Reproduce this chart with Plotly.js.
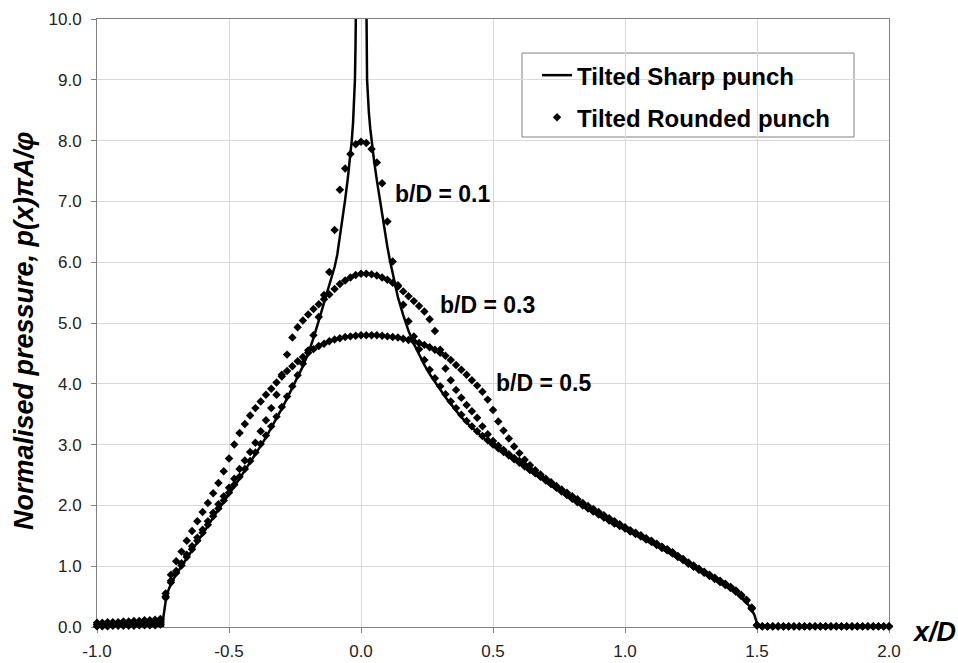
<!DOCTYPE html>
<html>
<head>
<meta charset="utf-8">
<script src="https://cdn.plot.ly/plotly-3.0.1.min.js"></script>
<style>html,body{margin:0;padding:0;background:#fff;}#chart{width:958px;height:663px;}</style>
</head>
<body>
<div id="chart"></div>
<script>
// Tilted sharp punch (solid line), singular near x/D = 0
const sharpX = [-1.0,-0.75,-0.749,-0.745,-0.74,-0.73,-0.72,-0.70,-0.68,-0.66,-0.64,-0.62,-0.60,-0.58,-0.56,-0.54,-0.52,-0.50,-0.48,-0.46,-0.44,-0.42,-0.40,-0.38,-0.36,-0.34,-0.32,-0.30,-0.28,-0.26,-0.24,-0.22,-0.20,-0.18,-0.16,-0.14,-0.12,-0.10,-0.09,-0.08,-0.07,-0.06,-0.05,-0.04,-0.035,-0.03,-0.025,-0.023,-0.021,-0.019,-0.018,
  null,
  0.018,0.021,0.023,0.026,0.03,0.035,0.04,0.05,0.06,0.072,0.08,0.09,0.10,0.11,0.12,0.14,0.16,0.18,0.20,0.22,0.24,0.26,0.28,0.30,0.32,0.34,0.36,0.38,0.40,0.42,0.44,0.46,0.48,0.50,0.55,0.60,0.65,0.70,0.75,0.80,0.85,0.90,0.95,1.00,1.05,1.10,1.15,1.20,1.25,1.30,1.35,1.40,1.44,1.46,1.48,1.49,1.497,1.50,2.0];
const sharpY = [0,0,0.15,0.30,0.42,0.60,0.71,0.87,0.99,1.13,1.26,1.40,1.53,1.66,1.80,1.93,2.05,2.18,2.31,2.44,2.57,2.70,2.84,2.98,3.12,3.27,3.43,3.59,3.76,3.93,4.10,4.29,4.50,4.75,5.04,5.33,5.62,5.92,6.12,6.40,6.70,7.03,7.38,7.75,8.00,8.30,8.70,9.00,9.50,10.0,10.6,
  null,
  10.6,10.0,9.0,8.7,8.45,8.2,8.0,7.65,7.35,7.0,6.78,6.50,6.25,6.02,5.80,5.42,5.13,4.87,4.66,4.48,4.31,4.16,4.03,3.90,3.78,3.67,3.56,3.45,3.36,3.28,3.20,3.12,3.05,2.98,2.83,2.68,2.54,2.39,2.24,2.09,1.96,1.83,1.71,1.60,1.49,1.38,1.26,1.13,1.00,0.87,0.75,0.62,0.49,0.41,0.28,0.20,0.10,0,0];

// Tilted rounded punch (dots), common x/D sampling
const roundedX = [
 -1.00,-0.98,-0.96,-0.94,-0.92,-0.90,-0.88,-0.86,-0.84,-0.82,
 -0.80,-0.78,-0.76,-0.74,-0.72,-0.70,-0.68,-0.66,-0.64,-0.62,
 -0.60,-0.58,-0.56,-0.54,-0.52,-0.50,-0.48,-0.46,-0.44,-0.42,
 -0.40,-0.38,-0.36,-0.34,-0.32,-0.30,-0.28,-0.26,-0.24,-0.22,
 -0.20,-0.18,-0.16,-0.14,-0.12,-0.10,-0.08,-0.06,-0.04,-0.02,
 0.00,0.02,0.04,0.06,0.08,0.10,0.12,0.14,0.16,0.18,
 0.20,0.22,0.24,0.26,0.28,0.30,0.32,0.34,0.36,0.38,
 0.40,0.42,0.44,0.46,0.48,0.50,0.52,0.54,0.56,0.58,
 0.60,0.62,0.64,0.66,0.68,0.70,0.72,0.74,0.76,0.78,
 0.80,0.82,0.84,0.86,0.88,0.90,0.92,0.94,0.96,0.98,
 1.00,1.02,1.04,1.06,1.08,1.10,1.12,1.14,1.16,1.18,
 1.20,1.22,1.24,1.26,1.28,1.30,1.32,1.34,1.36,1.38,
 1.40,1.42,1.44,1.46,1.48,1.50,1.52,1.54,1.56,1.58,
 1.60,1.62,1.64,1.66,1.68,1.70,1.72,1.74,1.76,1.78,
 1.80,1.82,1.84,1.86,1.88,1.90,1.92,1.94,1.96,1.98,
 2.00];

const roundedB01 = [
 0.01,0.01,0.01,0.02,0.02,0.02,0.02,0.02,0.03,0.03,
 0.03,0.03,0.04,0.48,0.73,0.89,1.01,1.15,1.28,1.42,
 1.55,1.68,1.82,1.95,2.08,2.21,2.34,2.47,2.60,2.73,
 2.87,3.01,3.15,3.30,3.46,3.62,3.79,3.96,4.14,4.33,
 4.55,4.80,5.10,5.46,5.84,6.53,7.19,7.54,7.78,7.94,
 7.98,7.96,7.86,7.64,7.30,6.67,6.01,5.62,5.30,5.03,
 4.78,4.57,4.39,4.23,4.09,3.96,3.83,3.71,3.60,3.49,
 3.39,3.30,3.22,3.14,3.07,3.00,2.94,2.88,2.82,2.76,
 2.70,2.64,2.58,2.53,2.47,2.41,2.35,2.29,2.23,2.17,
 2.11,2.05,2.00,1.95,1.90,1.85,1.80,1.75,1.70,1.66,
 1.62,1.57,1.53,1.49,1.44,1.40,1.35,1.30,1.26,1.21,
 1.15,1.10,1.04,0.99,0.94,0.89,0.84,0.79,0.74,0.69,
 0.64,0.58,0.51,0.43,0.30,0.03,0.01,0.01,0.01,0.01,
 0.01,0.01,0.01,0.01,0.01,0.01,0.01,0.01,0.01,0.01,
 0.01,0.01,0.01,0.01,0.01,0.01,0.01,0.01,0.01,0.01,
 0.01];

const roundedB03 = [
 0.04,0.04,0.05,0.05,0.05,0.05,0.06,0.06,0.06,0.07,
 0.07,0.07,0.08,0.50,0.76,0.92,1.05,1.19,1.33,1.47,
 1.60,1.74,1.88,2.02,2.15,2.29,2.44,2.60,2.74,2.88,
 3.03,3.22,3.40,3.60,3.82,4.15,4.48,4.76,4.93,5.04,
 5.14,5.23,5.31,5.39,5.47,5.56,5.64,5.70,5.75,5.79,
 5.81,5.81,5.80,5.78,5.75,5.71,5.66,5.60,5.52,5.44,
 5.36,5.28,5.19,5.06,4.87,4.56,4.25,4.06,3.90,3.77,
 3.65,3.55,3.44,3.30,3.17,3.06,2.98,2.91,2.84,2.78,
 2.73,2.67,2.60,2.54,2.48,2.42,2.36,2.30,2.24,2.18,
 2.12,2.06,2.01,1.96,1.91,1.86,1.81,1.76,1.71,1.67,
 1.63,1.58,1.54,1.50,1.45,1.41,1.36,1.31,1.27,1.22,
 1.16,1.11,1.05,1.00,0.95,0.90,0.85,0.80,0.75,0.70,
 0.65,0.59,0.52,0.44,0.31,0.03,0.01,0.01,0.01,0.01,
 0.01,0.01,0.01,0.01,0.01,0.01,0.01,0.01,0.01,0.01,
 0.01,0.01,0.01,0.01,0.01,0.01,0.01,0.01,0.01,0.01,
 0.01];

const roundedB05 = [
 0.07,0.07,0.08,0.08,0.08,0.09,0.09,0.10,0.10,0.11,
 0.11,0.12,0.13,0.55,0.86,1.08,1.24,1.42,1.58,1.74,
 1.89,2.04,2.20,2.37,2.56,2.77,3.00,3.19,3.34,3.48,
 3.60,3.71,3.82,3.92,4.02,4.12,4.21,4.29,4.37,4.44,
 4.51,4.57,4.62,4.66,4.70,4.73,4.75,4.77,4.78,4.79,
 4.80,4.80,4.80,4.80,4.79,4.78,4.77,4.76,4.74,4.72,
 4.70,4.67,4.64,4.60,4.56,4.51,4.46,4.39,4.31,4.23,
 4.15,4.06,3.97,3.87,3.74,3.57,3.38,3.23,3.10,2.97,
 2.86,2.75,2.66,2.58,2.51,2.44,2.38,2.32,2.26,2.21,
 2.15,2.10,2.04,1.99,1.94,1.89,1.84,1.79,1.74,1.69,
 1.64,1.59,1.55,1.51,1.46,1.42,1.37,1.32,1.28,1.23,
 1.17,1.12,1.06,1.01,0.96,0.91,0.86,0.81,0.76,0.71,
 0.66,0.60,0.53,0.45,0.32,0.03,0.01,0.01,0.01,0.01,
 0.01,0.01,0.01,0.01,0.01,0.01,0.01,0.01,0.01,0.01,
 0.01,0.01,0.01,0.01,0.01,0.01,0.01,0.01,0.01,0.01,
 0.01];

const seriesNames = ['Tilted Sharp punch', 'Tilted Rounded punch'];
const curveLabels = ['b/D = 0.1', 'b/D = 0.3', 'b/D = 0.5'];
const curveLabelX = [0.307, 0.479, 0.693];
const curveLabelY = [7.12, 5.30, 4.02];
const xTickVals = [-1.0, -0.5, 0.0, 0.5, 1.0, 1.5, 2.0];
const xTickText = ['-1.0', '-0.5', '0.0', '0.5', '1.0', '1.5', '2.0'];
const yTickVals = [0,1,2,3,4,5,6,7,8,9,10];
const yTickText = ['0.0','1.0','2.0','3.0','4.0','5.0','6.0','7.0','8.0','9.0','10.0'];

const FONT = 'Liberation Sans, Arial, sans-serif';
const dotMarker = {symbol: 'diamond', size: 6.5, color: '#000'};

const traces = [
  {x: sharpX, y: sharpY, type: 'scatter', mode: 'lines', name: '<b>' + seriesNames[0] + '</b>',
   line: {color: '#000', width: 2.5}, connectgaps: false, legendgroup: 'a'},
  {x: roundedX, y: roundedB01, type: 'scatter', mode: 'markers', name: '<b>' + seriesNames[1] + '</b>',
   marker: dotMarker, cliponaxis: false, legendgroup: 'b'},
  {x: roundedX, y: roundedB03, type: 'scatter', mode: 'markers', showlegend: false,
   marker: dotMarker, cliponaxis: false, legendgroup: 'b'},
  {x: roundedX, y: roundedB05, type: 'scatter', mode: 'markers', showlegend: false,
   marker: dotMarker, cliponaxis: false, legendgroup: 'b'}
];

const annotations = curveLabels.map((t, i) => ({
  x: curveLabelX[i], y: curveLabelY[i], xref: 'x', yref: 'y', text: '<b>' + t + '</b>',
  showarrow: false, xanchor: 'center', yanchor: 'middle', font: {family: FONT, size: 23, color: '#000'}
}));
annotations.push({
  x: -0.092, y: 0.487, xref: 'paper', yref: 'paper', textangle: -90,
  text: '<b><i>Normalised pressure, p(x)πA/φ</i></b>', showarrow: false,
  xanchor: 'center', yanchor: 'middle', font: {family: FONT, size: 27, color: '#000'}
});
annotations.push({
  x: 1.057, y: -0.008, xref: 'paper', yref: 'paper',
  text: '<b><i>x/D</i></b>', showarrow: false,
  xanchor: 'center', yanchor: 'middle', font: {family: FONT, size: 27, color: '#000'}
});

const axisCommon = {
  showgrid: true, gridcolor: '#d9d9d9', gridwidth: 1,
  showline: true, linecolor: '#808080', linewidth: 1, mirror: true,
  ticks: 'outside', ticklen: 5, tickcolor: '#808080', tickwidth: 1,
  tickfont: {family: FONT, size: 17, color: '#222'},
  zeroline: false, layer: 'below traces'
};

const layout = {
  width: 958, height: 663,
  margin: {l: 97, r: 69, t: 19, b: 36},
  paper_bgcolor: '#fff', plot_bgcolor: '#fff',
  showlegend: true,
  legend: {x: 0.5556, y: 0.944, xanchor: 'left', yanchor: 'top',
    borderwidth: 0, bgcolor: 'rgba(0,0,0,0)',
    font: {family: FONT, size: 24, color: '#000'}, tracegroupgap: 8},
  shapes: [{type: 'rect', xref: 'paper', yref: 'paper', x0: 0.5366, x1: 0.9558, y0: 0.8059, y1: 0.944,
    line: {color: '#808080', width: 1}, fillcolor: '#fff', layer: 'between'}],
  xaxis: Object.assign({}, axisCommon, {range: [-1, 2], tickvals: xTickVals, ticktext: xTickText, ticklabelstandoff: 4}),
  yaxis: Object.assign({}, axisCommon, {range: [0, 10], tickvals: yTickVals, ticktext: yTickText, ticklabelstandoff: 6}),
  annotations: annotations
};

Plotly.newPlot('chart', traces, layout, {staticPlot: true, displayModeBar: false});
</script>
</body>
</html>
